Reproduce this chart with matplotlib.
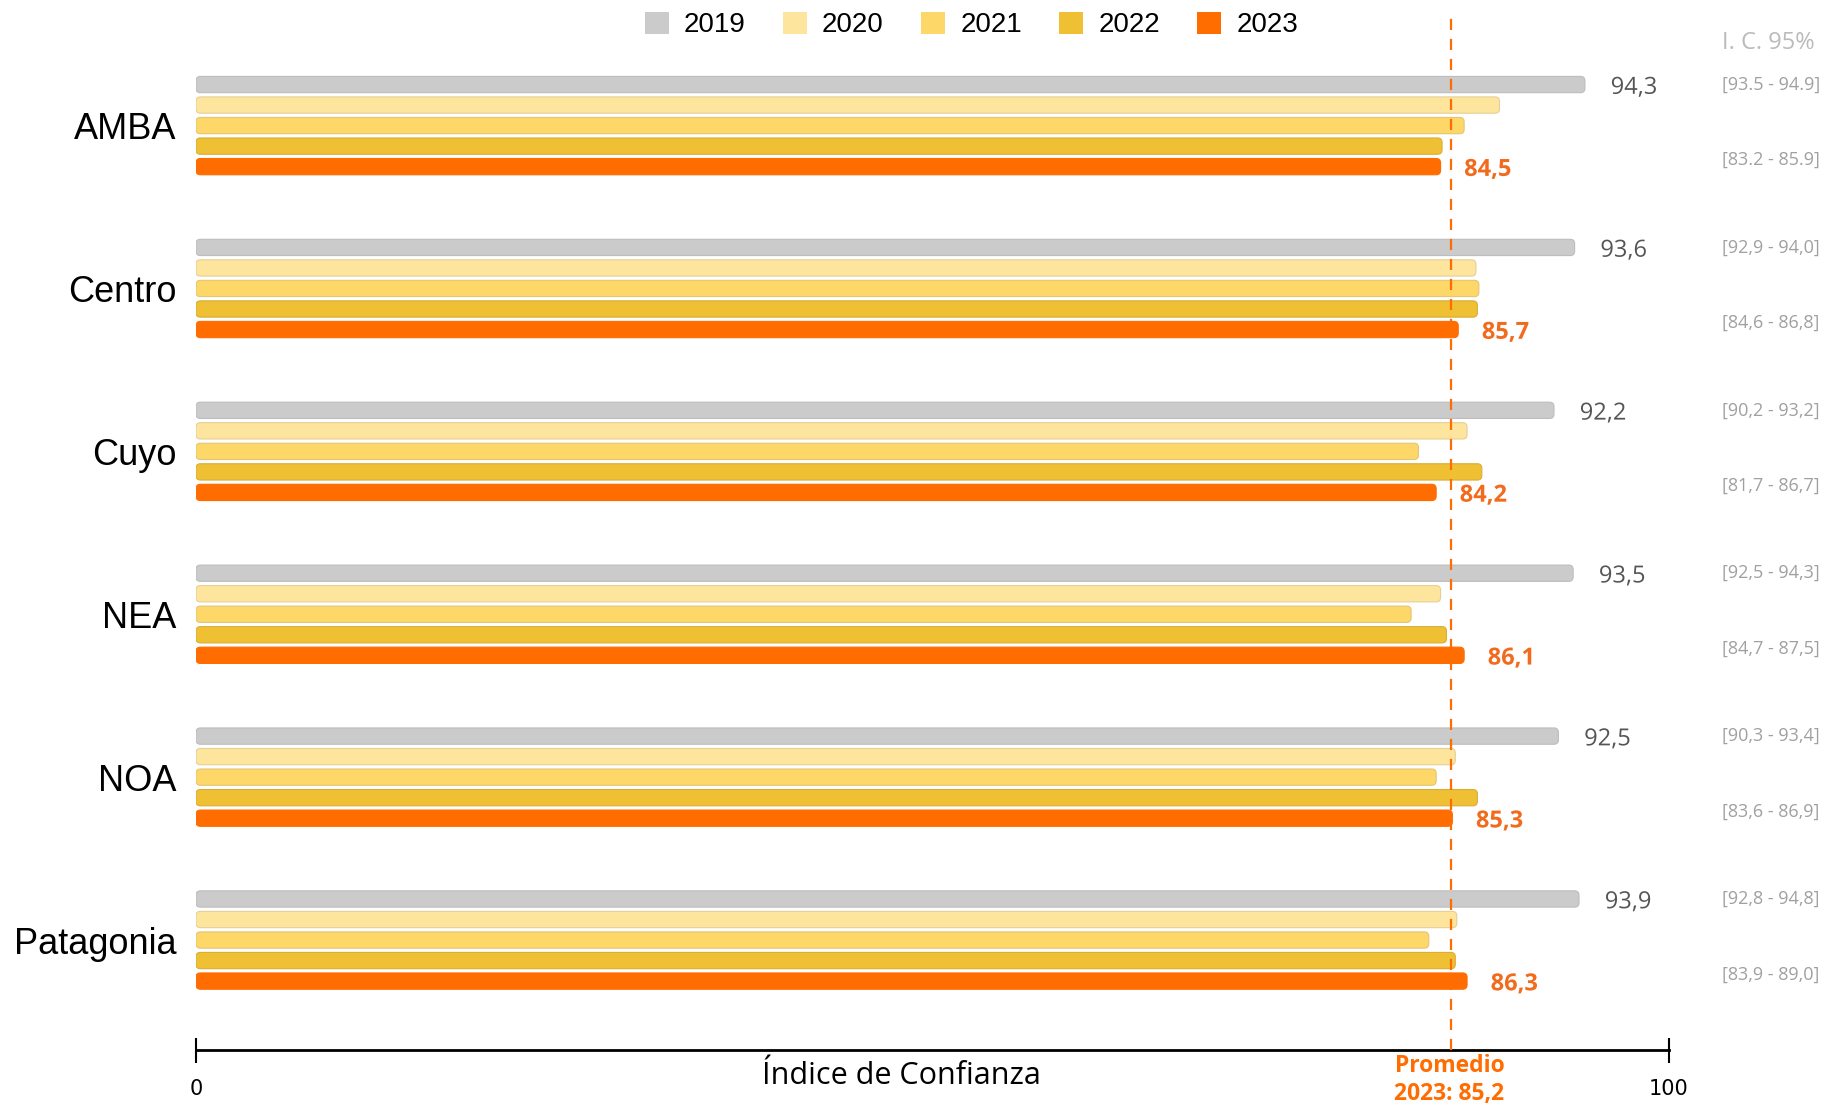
import matplotlib
matplotlib.use("Agg")
import matplotlib.pyplot as plt
import matplotlib.patheffects as pe
from matplotlib.patches import Patch, FancyBboxPatch

# values
regions = ['AMBA', 'Centro', 'Cuyo', 'NEA', 'NOA', 'Patagonia']
years = ['2019', '2020', '2021', '2022', '2023']
v2019 = [94.3, 93.6, 92.2, 93.5, 92.5, 93.9]
v2020 = [88.5, 86.9, 86.3, 84.5, 85.5, 85.6]
v2021 = [86.1, 87.1, 83.0, 82.5, 84.2, 83.7]
v2022 = [84.6, 87.0, 87.3, 84.9, 87.0, 85.5]
v2023 = [84.5, 85.7, 84.2, 86.1, 85.3, 86.3]
ci_2019 = ['[93.5 - 94.9]', '[92,9 - 94,0]', '[90,2 - 93,2]',
           '[92,5 - 94,3]', '[90,3 - 93,4]', '[92,8 - 94,8]']
ci_2023 = ['[83.2 - 85.9]', '[84,6 - 86,8]', '[81,7 - 86,7]',
           '[84,7 - 87,5]', '[83,6 - 86,9]', '[83,9 - 89,0]']
promedio_2023 = 85.2

colors = ['#CBCBCB', '#FEE59E', '#FDD768', '#EFC034', '#FF6C00']
edges = ['#BDBDBD', '#E5CF95', '#E3C575', '#D9AE35', '#FF6C00']
series = [v2019, v2020, v2021, v2022, v2023]

fig = plt.figure(figsize=(18.4, 11.07), dpi=100)
ax = fig.add_axes([0.1065, 0.0515, 0.8005, 0.9485])

step = 0.126
height = 0.10
ax.set_xlim(0, 100)
ax.set_ylim(5.675, -0.771)

# y units per x unit on screen, so the rounded ends come out circular
bb = ax.get_window_extent()
aspect = (6.446 / bb.height) / (100 / bb.width)

for k, vals in enumerate(series):
    ys = [g + (k - 2) * step for g in range(len(regions))]
    bars = ax.barh(ys, vals, height=height, color=colors[k])
    # swap the plain rectangles for rounded ones with the same geometry
    for b in bars:
        x0, y0, w, h = b.get_x(), b.get_y(), b.get_width(), b.get_height()
        b.remove()
        ax.add_patch(FancyBboxPatch((x0, y0), w, h,
                                    boxstyle='round,pad=0,rounding_size=0.3',
                                    mutation_aspect=aspect, facecolor=colors[k],
                                    edgecolor=edges[k], linewidth=0.8, zorder=2))

halo = [pe.withStroke(linewidth=4, foreground='white')]
for g in range(len(regions)):
    y_top = g - 2 * step + 0.02
    y_bot = g + 2 * step + 0.02
    ax.text(v2019[g] + 1.75, y_top, f"{v2019[g]:.1f}".replace('.', ','),
            va='center', ha='left', fontsize=17, color='#555555',
            family='Open Sans', path_effects=halo, zorder=4)
    ax.text(v2023[g] + 1.6, y_bot, f"{v2023[g]:.1f}".replace('.', ','),
            va='center', ha='left', fontsize=17, color='#F26B1D',
            family='Open Sans', fontweight='bold', path_effects=halo, zorder=4)
    ax.text(103.6, y_top - 0.02, ci_2019[g], va='center', ha='left', fontsize=13,
            color='#A0A0A0', family='Open Sans', clip_on=False)
    ax.text(103.6, y_bot - 0.06, ci_2023[g], va='center', ha='left', fontsize=13,
            color='#A0A0A0', family='Open Sans', clip_on=False)

ax.text(103.6, -0.51, 'I. C. 95%', va='center', ha='left', fontsize=17,
        color='#BBBBBB', family='Open Sans', clip_on=False)

# average line for 2023
ax.axvline(promedio_2023, ymin=0, ymax=0.983, color='#FF6C00', lw=1.6,
           ls=(0, (5, 4)), zorder=3)
ax.annotate('Promedio\n2023: 85,2', xy=(promedio_2023, 0), xycoords=('data', 'axes fraction'),
            xytext=(-1, -3), textcoords='offset points', ha='center', va='top',
            fontsize=16.5, fontweight='bold', color='#FF6C00', family='Open Sans',
            linespacing=1.2, annotation_clip=False)

ax.set_yticks(range(len(regions)))
ax.set_yticklabels(regions, fontsize=26, family='Liberation Sans')
ax.tick_params(axis='y', length=0, pad=14)
ax.set_xticks([0, 100])
ax.set_xticklabels(['0', '100'], fontsize=15)
ax.tick_params(axis='x', direction='inout', length=18, width=1.5, pad=12)
for side in ['top', 'right', 'left']:
    ax.spines[side].set_visible(False)
ax.spines['bottom'].set_linewidth(2)

ax.annotate('Índice de Confianza', xy=(47.9, 0), xycoords=('data', 'axes fraction'),
            xytext=(0, -19), textcoords='offset points', ha='center', va='center',
            fontsize=22, family='Open Sans', annotation_clip=False)

handles = [Patch(facecolor=c, edgecolor='none') for c in colors]
fig.legend(handles, years, loc='upper center', bbox_to_anchor=(0.528, 1.012),
           ncol=5, frameon=False, handlelength=0.85, handleheight=0.85,
           handletextpad=0.55, columnspacing=1.35,
           prop={'family': 'Liberation Sans', 'size': 20})

fig.savefig('out.png', dpi=100)
